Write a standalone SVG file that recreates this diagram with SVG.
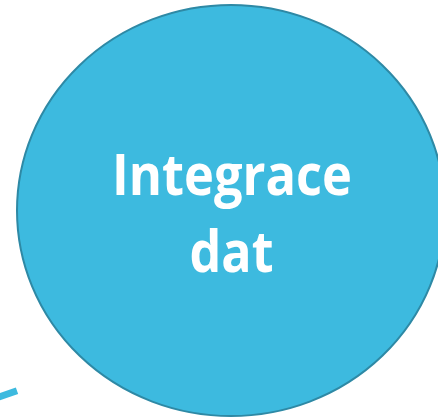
<svg xmlns="http://www.w3.org/2000/svg" width="438" height="419" viewBox="0 0 438 419">
<style>
.node{fill:#3dbadf;stroke:#2e89a5;stroke-width:2}
.lbl{font-family:"Open Sans","Liberation Sans",sans-serif;font-weight:bold;font-size:58px;fill:#ffffff;text-anchor:middle}
.conn{stroke:#3dbadf;stroke-width:7;fill:none}
</style>
<rect width="438" height="419" fill="#ffffff"/>
<g id="connectors">
<line class="conn" x1="-2" y1="397.3" x2="17" y2="390.7"/>
</g>
<g id="node-integrace">
<ellipse class="node" cx="231" cy="210.5" rx="214" ry="205.5"/>
<text class="lbl" x="232" y="195" textLength="240" lengthAdjust="spacingAndGlyphs">Integrace</text>
<text class="lbl" x="231.5" y="272" textLength="84" lengthAdjust="spacingAndGlyphs">dat</text>
</g>
</svg>
